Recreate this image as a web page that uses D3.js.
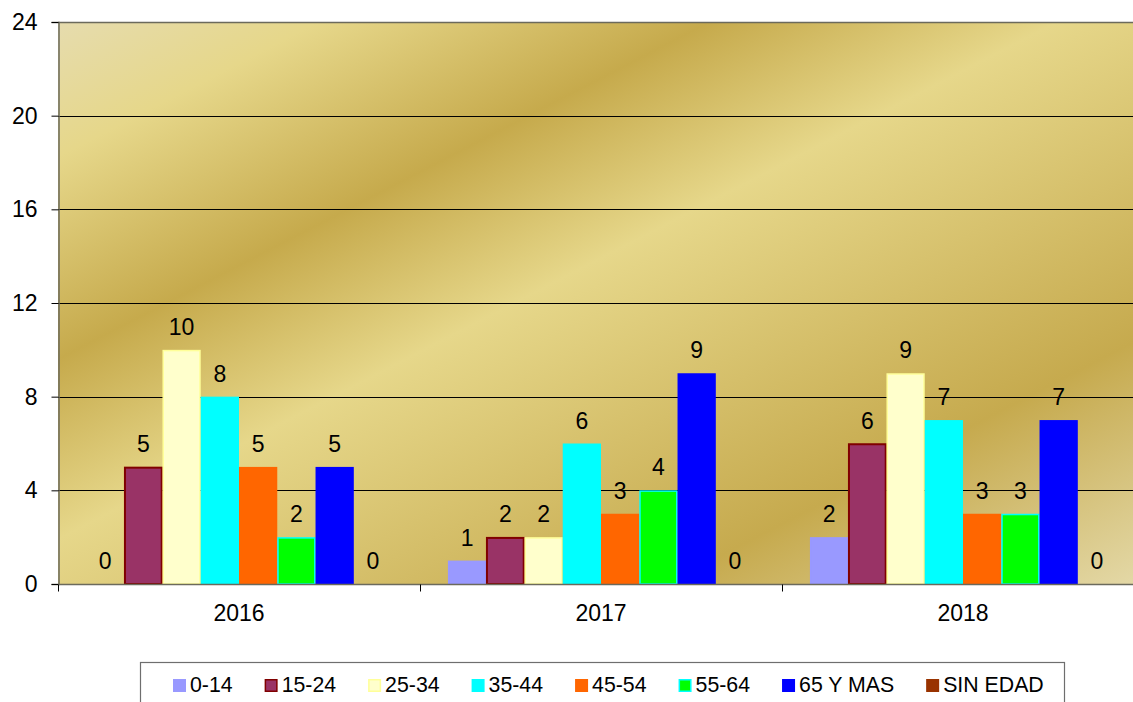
<!DOCTYPE html>
<html>
<head>
<meta charset="utf-8">
<script src="https://cdn.jsdelivr.net/npm/d3@7"></script>
<style>
  body { margin: 0; background: #ffffff; }
  svg { display: block; font-family: "Liberation Sans", Arial, sans-serif; }
</style>
</head>
<body>
<div id="chart"></div>
<script>
// data
var years = ["2016", "2017", "2018"];
var ageGroups = ["0-14", "15-24", "25-34", "35-44", "45-54", "55-64", "65 Y MAS", "SIN EDAD"];
var values2016 = [0, 5, 10, 8, 5, 2, 5, 0];
var values2017 = [1, 2, 2, 6, 3, 4, 9, 0];
var values2018 = [2, 6, 9, 7, 3, 3, 7, 0];
var yTicks = [0, 4, 8, 12, 16, 20, 24];

var fills = ["#9999ff", "#993366", "#ffffcc", "#00ffff", "#ff6600", "#00ff00", "#0000ff", "#993300"];
var strokes = ["#9999ff", "#800000", "#ffff99", "#00ffff", "#ff6600", "#00ffff", "#0000ff", "#993300"];

var valuesByYear = [values2016, values2017, values2018];

// dimensions
var width = 1133, height = 702;
var plot = {left: 58, top: 22, right: 1144, bottom: 584};

var svg = d3.select("#chart")
    .append("svg")
    .attr("width", width)
    .attr("height", height);

// gold background gradient
var defs = svg.append("defs");
var grad = defs.append("linearGradient")
    .attr("id", "gold")
    .attr("x1", 0).attr("y1", 0)
    .attr("x2", 1).attr("y2", 1);
[[0, "#e6dcae"], [0.12, "#e6d78a"], [0.30, "#c6aa4c"], [0.46, "#e6d78a"], [0.78, "#c6aa4e"], [1, "#e4d9a8"]]
    .forEach(function(s) {
        grad.append("stop").attr("offset", s[0]).attr("stop-color", s[1]);
    });

svg.append("rect")
    .attr("x", plot.left)
    .attr("y", plot.top)
    .attr("width", plot.right - plot.left)
    .attr("height", plot.bottom - plot.top)
    .attr("fill", "url(#gold)");

// scales
var x0 = d3.scaleBand()
    .domain(years)
    .range([plot.left, plot.right])
    .padding(0);

var x1 = d3.scaleBand()
    .domain(ageGroups)
    .range([0, x0.bandwidth()])
    .paddingInner(0)
    .paddingOuter(0.73);

var y = d3.scaleLinear()
    .domain([0, 24])
    .range([plot.bottom, plot.top]);

// gridlines
svg.append("g")
    .selectAll("line")
    .data(yTicks.filter(function(d) { return d > 0; }))
    .enter()
    .append("line")
    .attr("x1", plot.left)
    .attr("x2", plot.right)
    .attr("y1", function(d) { return Math.round(y(d)) + 0.5; })
    .attr("y2", function(d) { return Math.round(y(d)) + 0.5; })
    .attr("stroke", function(d) { return d == 24 ? "#6b6a5c" : "#000000"; })
    .attr("stroke-width", function(d) { return d == 24 ? 1.5 : 1; });

// bars
var groups = svg.append("g")
    .selectAll("g")
    .data(years)
    .enter()
    .append("g")
    .attr("transform", function(d) { return "translate(" + x0(d) + ",0)"; });

groups.selectAll("rect")
    .data(function(d, i) {
        return valuesByYear[i].map(function(v, j) { return {key: ageGroups[j], value: v, idx: j}; });
    })
    .enter()
    .append("rect")
    .filter(function(d) { return d.value > 0; })
    .attr("x", function(d) { return x1(d.key) + 0.75; })
    .attr("y", function(d) { return y(d.value) + 0.75; })
    .attr("width", x1.bandwidth() - 1.5)
    .attr("height", function(d) { return y(0) - y(d.value) - 0.75; })
    .attr("fill", function(d) { return fills[d.idx]; })
    .attr("stroke", function(d) { return strokes[d.idx]; })
    .attr("stroke-width", function(d) { return d.idx == 1 ? 2 : 1.5; });

// value labels
groups.selectAll("text")
    .data(function(d, i) {
        return valuesByYear[i].map(function(v, j) { return {key: ageGroups[j], value: v}; });
    })
    .enter()
    .append("text")
    .attr("x", function(d) { return x1(d.key) + x1.bandwidth() / 2; })
    .attr("y", function(d) { return y(d.value) - 15; })
    .attr("text-anchor", "middle")
    .attr("font-size", 23)
    .attr("fill", "#000")
    .text(function(d) { return d.value; });

// Y axis
var yAxis = svg.append("g")
    .attr("transform", "translate(" + (plot.left + 0.5) + ",0)")
    .call(d3.axisLeft(y).tickValues(yTicks).tickSize(7).tickPadding(14));
yAxis.selectAll("text").attr("font-size", 23).attr("fill", "#000").attr("font-family", "Liberation Sans, Arial, sans-serif");
yAxis.selectAll("line").attr("stroke", "#000");
yAxis.select(".domain").attr("stroke", "#6b6a5c").attr("stroke-width", 1.5);

// X axis
var xAxis = svg.append("g")
    .attr("transform", "translate(0," + (plot.bottom + 0.5) + ")");
xAxis.append("line")
    .attr("x1", plot.left)
    .attr("x2", plot.right)
    .attr("stroke", "#6b6a5c")
    .attr("stroke-width", 1.5);
xAxis.selectAll(".sep")
    .data(years.concat(["end"]))
    .enter()
    .append("line")
    .attr("class", "sep")
    .attr("x1", function(d, i) { return Math.round(plot.left + i * x0.bandwidth()) + 0.5; })
    .attr("x2", function(d, i) { return Math.round(plot.left + i * x0.bandwidth()) + 0.5; })
    .attr("y1", 0)
    .attr("y2", 7)
    .attr("stroke", "#000");
xAxis.selectAll(".lbl")
    .data(years)
    .enter()
    .append("text")
    .attr("class", "lbl")
    .attr("x", function(d) { return x0(d) + x0.bandwidth() / 2; })
    .attr("y", 36)
    .attr("text-anchor", "middle")
    .attr("font-size", 23)
    .text(function(d) { return d; });

// legend
var legend = svg.append("g");
legend.append("rect")
    .attr("x", 140.5)
    .attr("y", 662.5)
    .attr("width", 924)
    .attr("height", 60)
    .attr("fill", "#fff")
    .attr("stroke", "#6e6e6e")
    .attr("stroke-width", 1.2);

var lx = 173;
ageGroups.forEach(function(g, i) {
    var item = legend.append("g").attr("transform", "translate(" + lx + ",679)");
    item.append("rect")
        .attr("x", 0.75)
        .attr("y", 0.75)
        .attr("width", 11.5)
        .attr("height", 11.5)
        .attr("fill", fills[i])
        .attr("stroke", strokes[i])
        .attr("stroke-width", 1.5);
    var t = item.append("text")
        .attr("x", 17)
        .attr("y", 13)
        .attr("font-size", 21.3)
        .text(g);
    lx += 17 + t.node().getComputedTextLength() + 32;
});
</script>
</body>
</html>
